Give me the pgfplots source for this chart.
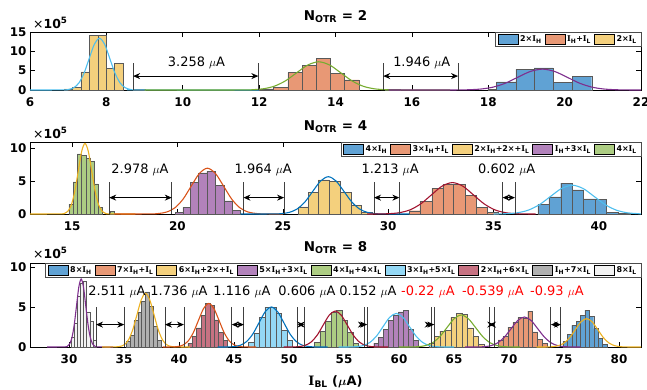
\documentclass[border=0pt]{standalone}
\usepackage{fontspec}
\setmainfont{DejaVu Sans}
\newfontfamily\sI{DejaVu Serif}
\usepackage{pgfplots}
\pgfplotsset{compat=1.18}
\usetikzlibrary{arrows.meta}
\definecolor{hblue}{RGB}{96,162,212}
\definecolor{horange}{RGB}{232,152,117}
\definecolor{hyellow}{RGB}{244,208,125}
\definecolor{hpurple}{RGB}{178,130,187}
\definecolor{hgreen}{RGB}{173,205,131}
\definecolor{hlblue}{RGB}{148,216,245}
\definecolor{hcrimson}{RGB}{199,114,130}
\definecolor{hgray}{RGB}{176,176,176}
\definecolor{hwhite}{RGB}{242,242,242}
\definecolor{mblue}{RGB}{0,114,189}
\definecolor{morange}{RGB}{217,83,25}
\definecolor{myellow}{RGB}{237,177,32}
\definecolor{mpurple}{RGB}{126,47,142}
\definecolor{mgreen}{RGB}{119,172,48}
\definecolor{mlblue}{RGB}{77,190,238}
\definecolor{mcrimson}{RGB}{162,20,47}
\newcommand{\Ih}{{\sI I}\textsubscript{H}}
\newcommand{\Il}{{\sI I}\textsubscript{L}}
\tikzset{
  gapline/.style={line width=0.9pt, black!75},
  gaparrow/.style={{Stealth[length=7bp,width=6bp]}-{Stealth[length=7bp,width=6bp]}, line width=0.9pt, black},
  gaptext/.style={font=\fontsize{13}{13}\selectfont},
}
\pgfplotsset{
  myax/.style={scale only axis, width=611bp, enlargelimits=false, scaled ticks=false,
    axis line style={line width=0.6pt}, every tick/.style={black, line width=0.6pt},
    major tick length=5bp, tick align=inside,
    tick label style={font=\fontsize{12}{12}\selectfont\bfseries},
    xticklabel style={yshift=-4bp},
    /pgf/number format/assume math mode=true,
    legend columns=-1, legend cell align=left,
    legend style={at={(1,1)}, anchor=north east, draw=black!70, line width=0.5pt, fill=white,
      font=\fontsize{8}{9}\selectfont\bfseries, inner xsep=2bp, inner ysep=1.5bp,
      /tikz/every even column/.append style={column sep=1bp}}},
  hbar/.style={ybar interval, fill=#1, draw=black!65, line width=0.4pt,
    legend image code/.code={\draw[fill=#1, draw=black, line width=0.5pt] (0bp,-5bp) rectangle (20bp,5bp);}},
  fit/.style={smooth, color=#1, line width=1.1pt, forget plot},
}
\begin{document}
\begin{tikzpicture}
% ---------------- Panel 1 : N_OTR = 2 ----------------
\begin{axis}[myax, name=ax1, at={(0bp,0bp)}, anchor=north west, height=58bp,
  xmin=6, xmax=22, ymin=0, ymax=15, xtick={6,8,...,22}, ytick={0,5,10,15}]
\addplot[hbar=hblue] coordinates {(17.99,0.2)(18.22,2.1)(18.72,5.35)(19.20,5.75)(19.70,1.95)(20.20,3.45)(20.71,0)};
\addlegendentry{2×\Ih}
\addplot[hbar=horange] coordinates {(12.0,0.3)(12.37,0.65)(12.75,4.5)(13.13,6.3)(13.49,8.2)(13.87,4.3)(14.23,2.6)(14.61,0)};
\addlegendentry{\Ih+\Il}
\addplot[hbar=hyellow] coordinates {(6.895,0.3)(7.115,0.7)(7.335,4.7)(7.555,14.2)(7.775,14.2)(7.995,5.6)(8.215,6.9)(8.435,0)};
\addlegendentry{2×\Il}
\addplot[hbar=horange, forget plot] coordinates {(15.30,0.2)(15.69,0)};
\addplot[hbar=hyellow, forget plot] coordinates {(8.70,0.3)(9.01,0)};
\addplot[fit=mlblue] coordinates {(6,0)(6.875,0.03)(7.01,0.15)(7.145,0.59)(7.28,1.81)(7.415,4.35)(7.55,8.13)(7.685,11.83)(7.82,13.4)(7.955,11.83)(8.09,8.13)(8.225,4.35)(8.36,1.81)(8.495,0.59)(8.63,0.15)(8.765,0.03)(12,0)};
\addplot[fit=mgreen] coordinates {(9,0)(11.53,0.016)(11.82,0.08)(12.11,0.32)(12.40,0.99)(12.69,2.37)(12.98,4.43)(13.27,6.44)(13.56,7.3)(13.85,6.44)(14.14,4.43)(14.43,2.37)(14.72,0.99)(15.01,0.32)(15.30,0.08)(15.59,0.016)(17,0)};
\addplot[fit=mpurple] coordinates {(15.4,0)(17.145,0.012)(17.47,0.06)(17.795,0.24)(18.12,0.73)(18.445,1.75)(18.77,3.28)(19.095,4.77)(19.42,5.4)(19.745,4.77)(20.07,3.28)(20.395,1.75)(20.72,0.73)(21.045,0.24)(21.37,0.06)(21.695,0.012)(22,0)};
\draw[gapline] (axis cs:8.70,0) -- (axis cs:8.70,6.9);
\draw[gapline] (axis cs:11.98,0) -- (axis cs:11.98,6.9);
\draw[gaparrow] (axis cs:8.70,3.6) -- (axis cs:11.98,3.6);
\node[gaptext] at (axis cs:10.36,7.0) {3.258 $\mu$A};
\draw[gapline] (axis cs:15.25,0) -- (axis cs:15.25,6.9);
\draw[gapline] (axis cs:17.21,0) -- (axis cs:17.21,6.9);
\draw[gaparrow] (axis cs:15.25,3.6) -- (axis cs:17.21,3.6);
\node[gaptext] at (axis cs:16.26,7.0) {1.946 $\mu$A};
\end{axis}
\node[anchor=base, font=\fontsize{13.5}{14}\selectfont\bfseries] at ([yshift=12bp]ax1.north) {N\textsubscript{OTR} = 2};
\node[anchor=base west, font=\fontsize{12.5}{13}\selectfont, inner sep=0pt] at ([xshift=3bp,yshift=4bp]ax1.north west) {×\textbf{10}\textsuperscript{\textbf{5}}};

% ---------------- Panel 2 : N_OTR = 4 ----------------
\begin{axis}[myax, name=ax2, at={(0bp,-110bp)}, anchor=north west, height=72bp,
  xmin=13, xmax=42, ymin=0, ymax=11, xtick={15,20,...,40}, ytick={0,5,10}]
\addplot[hbar=hblue] coordinates {(37.10,1.5)(37.63,2.6)(38.19,4.7)(38.74,3.7)(39.26,2.3)(39.82,2.2)(40.37,0.2)(40.92,0.1)(41.47,0)};
\addlegendentry{4×\Ih}
\addplot[hbar=horange] coordinates {(31.0,0.5)(31.51,1.9)(32.07,3.9)(32.59,4.5)(33.09,4.5)(33.65,2.9)(34.17,1.0)(34.68,0.3)(35.2,0)};
\addlegendentry{3×\Ih+\Il}
\addplot[hbar=hyellow] coordinates {(25.73,1.1)(26.21,3.3)(26.68,5.2)(27.2,5.0)(27.73,3.3)(28.26,1.3)(28.74,0.2)(29.22,0)};
\addlegendentry{2×\Ih+2×+\Il}
\addplot[hbar=hpurple] coordinates {(19.9,0.2)(20.25,1.0)(20.6,4.8)(21.0,6.3)(21.4,6.5)(21.8,4.4)(22.2,2.0)(22.6,0.6)(23.0,0)};
\addlegendentry{\Ih+3×\Il}
\addplot[hbar=hgreen] coordinates {(14.85,1.5)(15.05,4.9)(15.25,9.2)(15.45,9.0)(15.65,8.5)(15.85,8.0)(16.05,4.6)(16.25,1.0)(16.45,0)};
\addlegendentry{4×\Il}
\addplot[hbar=hgreen, forget plot] coordinates {(16.8,0.5)(17.0,0)};
\addplot[fit=myellow] coordinates {(13,0)(14.49,0.024)(14.65,0.12)(14.81,0.47)(14.97,1.46)(15.13,3.51)(15.29,6.55)(15.45,9.53)(15.61,10.8)(15.77,9.53)(15.93,6.55)(16.09,3.51)(16.25,1.46)(16.41,0.47)(16.57,0.12)(16.73,0.024)(18,0)};
\addplot[fit=morange] coordinates {(17,0)(18.725,0.015)(19.11,0.08)(19.495,0.31)(19.88,0.95)(20.265,2.27)(20.65,4.25)(21.035,6.18)(21.42,7.0)(21.805,6.18)(22.19,4.25)(22.575,2.27)(22.96,0.95)(23.345,0.31)(23.73,0.08)(24.115,0.015)(25,0)};
\addplot[fit=mblue] coordinates {(23,0)(24.57,0.013)(24.94,0.06)(25.31,0.25)(25.68,0.77)(26.05,1.85)(26.42,3.46)(26.79,5.03)(27.16,5.7)(27.53,5.03)(27.90,3.46)(28.27,1.85)(28.64,0.77)(29.01,0.25)(29.38,0.06)(29.75,0.013)(31,0)};
\addplot[fit=mcrimson] coordinates {(29,0)(29.55,0.011)(30.05,0.05)(30.55,0.21)(31.05,0.65)(31.55,1.56)(32.05,2.91)(32.55,4.24)(33.05,4.8)(33.55,4.24)(34.05,2.91)(34.55,1.56)(35.05,0.65)(35.55,0.21)(36.05,0.05)(36.55,0.011)(37,0)};
\addplot[fit=mlblue] coordinates {(35,0)(35.10,0.01)(35.62,0.05)(36.14,0.19)(36.66,0.60)(37.18,1.43)(37.70,2.67)(38.22,3.88)(38.74,4.4)(39.26,3.88)(39.78,2.67)(40.30,1.43)(40.82,0.60)(41.34,0.19)(41.86,0.05)(42,0)};
\draw[gapline] (axis cs:16.76,0) -- (axis cs:16.76,4.9);
\draw[gapline] (axis cs:19.73,0) -- (axis cs:19.73,4.9);
\draw[gaparrow] (axis cs:16.76,2.5) -- (axis cs:19.73,2.5);
\node[gaptext] at (axis cs:18.22,6.7) {2.978 $\mu$A};
\draw[gapline] (axis cs:23.13,0) -- (axis cs:23.13,4.9);
\draw[gapline] (axis cs:25.06,0) -- (axis cs:25.06,4.9);
\draw[gaparrow] (axis cs:23.13,2.5) -- (axis cs:25.06,2.5);
\node[gaptext] at (axis cs:24.07,6.7) {1.964 $\mu$A};
\draw[gapline] (axis cs:29.33,0) -- (axis cs:29.33,4.9);
\draw[gapline] (axis cs:30.53,0) -- (axis cs:30.53,4.9);
\draw[gaparrow] (axis cs:29.33,2.5) -- (axis cs:30.53,2.5);
\node[gaptext] at (axis cs:30.09,6.7) {1.213 $\mu$A};
\draw[gapline] (axis cs:35.43,0) -- (axis cs:35.43,4.9);
\draw[gapline] (axis cs:36.02,0) -- (axis cs:36.02,4.9);
\draw[gaparrow] (axis cs:35.43,2.5) -- (axis cs:36.02,2.5);
\node[gaptext] at (axis cs:35.63,6.7) {0.602 $\mu$A};
\end{axis}
\node[anchor=base, font=\fontsize{13.5}{14}\selectfont\bfseries] at ([yshift=12bp]ax2.north) {N\textsubscript{OTR} = 4};
\node[anchor=base west, font=\fontsize{12.5}{13}\selectfont, inner sep=0pt] at ([xshift=3bp,yshift=4bp]ax2.north west) {×\textbf{10}\textsuperscript{\textbf{5}}};

% ---------------- Panel 3 : N_OTR = 8 ----------------
\begin{axis}[myax, name=ax3, at={(0bp,-231bp)}, anchor=north west, height=84bp,
  xmin=26.45, xmax=82, ymin=0, ymax=10.5, xtick={30,35,...,80}, ytick={0,5,10}]
\addplot[hbar=hblue] coordinates {(74.9,0.7)(75.3,1.6)(75.7,2.7)(76.1,3.2)(76.5,4.0)(76.9,4.6)(77.3,3.8)(77.7,2.3)(78.1,1.1)(78.5,0.3)(78.9,0)};
\addlegendentry{8×\Ih}
\addplot[hbar=horange] coordinates {(69.0,0.9)(69.45,1.3)(69.9,2.5)(70.35,3.1)(70.8,3.7)(71.25,3.6)(71.7,4.5)(72.15,1.9)(72.6,1.0)(73.05,0.5)(73.5,0)};
\addlegendentry{7×\Ih+\Il}
\addplot[hbar=hyellow] coordinates {(62.7,0.5)(63.2,1.3)(63.7,2.0)(64.2,2.1)(64.7,3.7)(65.2,4.2)(65.7,4.1)(66.2,2.4)(66.7,1.3)(67.2,0.3)(67.7,0)};
\addlegendentry{6×\Ih+2×+\Il}
\addplot[hbar=hpurple] coordinates {(57.7,0.5)(58.15,1.2)(58.6,2.2)(59.05,3.3)(59.5,4.0)(59.95,4.4)(60.4,4.6)(60.85,2.2)(61.3,0.8)(61.75,0)};
\addlegendentry{5×\Ih+3×\Il}
\addplot[hbar=hgreen] coordinates {(52.3,0.6)(52.8,2.0)(53.3,3.2)(53.8,4.3)(54.3,4.6)(54.8,3.3)(55.3,1.8)(55.8,0.5)(56.3,0)};
\addlegendentry{4×\Ih+4×\Il}
\addplot[hbar=hlblue] coordinates {(46.3,0.6)(46.8,1.7)(47.3,3.7)(47.8,5.0)(48.3,5.0)(48.8,4.2)(49.3,2.1)(49.8,0.8)(50.3,0)};
\addlegendentry{3×\Ih+5×\Il}
\addplot[hbar=hcrimson] coordinates {(40.8,0.5)(41.2,1.3)(41.6,2.4)(42.0,4.0)(42.4,5.5)(42.8,5.2)(43.2,3.4)(43.6,1.8)(44.0,0.8)(44.4,0)};
\addlegendentry{2×\Ih+6×\Il}
\addplot[hbar=hgray] coordinates {(35.2,0.7)(35.55,1.5)(35.9,3.3)(36.25,4.3)(36.6,5.7)(36.95,6.9)(37.3,5.1)(37.65,2.6)(38.0,0.8)(38.35,0)};
\addlegendentry{\Ih+7×\Il}
\addplot[hbar=hwhite] coordinates {(30.2,1.2)(30.48,3.0)(30.76,6.3)(31.04,8.0)(31.32,8.2)(31.6,4.4)(31.88,3.2)(32.16,0.9)(32.44,0)};
\addlegendentry{8×\Il}
\addplot[fit=mpurple] coordinates {(28,0)(29.63,0.019)(29.84,0.09)(30.05,0.37)(30.26,1.15)(30.47,2.76)(30.68,5.16)(30.89,7.50)(31.1,8.5)(31.31,7.50)(31.52,5.16)(31.73,2.76)(31.94,1.15)(32.15,0.37)(32.36,0.09)(32.57,0.019)(34,0)};
\addplot[fit=myellow] coordinates {(33,0)(34.255,0.015)(34.64,0.07)(35.025,0.29)(35.41,0.91)(35.795,2.18)(36.18,4.06)(36.565,5.91)(36.95,6.7)(37.335,5.91)(37.72,4.06)(38.105,2.18)(38.49,0.91)(38.875,0.29)(39.26,0.07)(39.645,0.015)(41,0)};
\addplot[fit=morange] coordinates {(38.5,0)(39.41,0.012)(39.88,0.06)(40.35,0.24)(40.82,0.74)(41.29,1.77)(41.76,3.31)(42.23,4.81)(42.7,5.45)(43.17,4.81)(43.64,3.31)(44.11,1.77)(44.58,0.74)(45.05,0.24)(45.52,0.06)(45.99,0.012)(47,0)};
\addplot[fit=mblue] coordinates {(43.5,0)(44.445,0.011)(45.01,0.06)(45.575,0.22)(46.14,0.68)(46.705,1.62)(47.27,3.03)(47.835,4.41)(48.4,5.0)(48.965,4.41)(49.53,3.03)(50.095,1.62)(50.66,0.68)(51.225,0.22)(51.79,0.06)(52.355,0.011)(53.5,0)};
\addplot[fit=mcrimson] coordinates {(49.5,0)(50.35,0.01)(50.9,0.05)(51.45,0.20)(52.0,0.61)(52.55,1.46)(53.1,2.73)(53.65,3.97)(54.2,4.5)(54.75,3.97)(55.3,2.73)(55.85,1.46)(56.4,0.61)(56.95,0.20)(57.5,0.05)(58.05,0.01)(59,0)};
\addplot[fit=mlblue] coordinates {(54.5,0)(55.55,0.009)(56.15,0.05)(56.75,0.18)(57.35,0.57)(57.95,1.36)(58.55,2.55)(59.15,3.71)(59.75,4.2)(60.35,3.71)(60.95,2.55)(61.55,1.36)(62.15,0.57)(62.75,0.18)(63.35,0.05)(63.95,0.009)(65,0)};
\addplot[fit=mgreen] coordinates {(60,0)(61.11,0.009)(61.76,0.04)(62.41,0.18)(63.06,0.54)(63.71,1.30)(64.36,2.43)(65.01,3.53)(65.66,4.0)(66.31,3.53)(66.96,2.43)(67.61,1.30)(68.26,0.54)(68.91,0.18)(69.56,0.04)(70.21,0.009)(71,0)};
\addplot[fit=mpurple] coordinates {(66,0)(67.13,0.008)(67.74,0.04)(68.35,0.16)(68.96,0.51)(69.57,1.22)(70.18,2.27)(70.79,3.31)(71.4,3.75)(72.01,3.31)(72.62,2.27)(73.23,1.22)(73.84,0.51)(74.45,0.16)(75.06,0.04)(75.67,0.008)(76.5,0)};
\addplot[fit=myellow] coordinates {(72.5,0)(73.445,0.008)(73.96,0.04)(74.475,0.16)(74.99,0.48)(75.505,1.15)(76.02,2.15)(76.535,3.13)(77.05,3.55)(77.565,3.13)(78.08,2.15)(78.595,1.15)(79.11,0.48)(79.625,0.16)(80.14,0.04)(80.655,0.008)(82,0)};
\draw[gapline] (axis cs:32.45,0) -- (axis cs:32.45,5.0);
\draw[gapline] (axis cs:35.02,0) -- (axis cs:35.02,5.0);
\draw[gaparrow] (axis cs:32.45,2.8) -- (axis cs:35.02,2.8);
\draw[gapline] (axis cs:38.72,0) -- (axis cs:38.72,5.0);
\draw[gapline] (axis cs:40.45,0) -- (axis cs:40.45,5.0);
\draw[gaparrow] (axis cs:38.72,2.8) -- (axis cs:40.45,2.8);
\draw[gapline] (axis cs:44.79,0) -- (axis cs:44.79,5.0);
\draw[gapline] (axis cs:45.90,0) -- (axis cs:45.90,5.0);
\draw[gaparrow] (axis cs:44.79,2.8) -- (axis cs:45.90,2.8);
\draw[gapline] (axis cs:50.79,0) -- (axis cs:50.79,5.0);
\draw[gapline] (axis cs:51.39,0) -- (axis cs:51.39,5.0);
\draw[gaparrow] (axis cs:50.79,2.8) -- (axis cs:51.39,2.8);
\draw[gapline] (axis cs:56.90,0) -- (axis cs:56.90,5.0);
\draw[gapline] (axis cs:57.11,0) -- (axis cs:57.11,5.0);
\draw[gaparrow] (axis cs:56.90,2.8) -- (axis cs:57.11,2.8);
\draw[gapline] (axis cs:62.97,0) -- (axis cs:62.97,5.0);
\draw[gapline] (axis cs:63.21,0) -- (axis cs:63.21,5.0);
\draw[gaparrow] (axis cs:62.97,2.8) -- (axis cs:63.21,2.8);
\draw[gapline] (axis cs:68.18,0) -- (axis cs:68.18,5.0);
\draw[gapline] (axis cs:68.66,0) -- (axis cs:68.66,5.0);
\draw[gaparrow] (axis cs:68.18,2.8) -- (axis cs:68.66,2.8);
\draw[gapline] (axis cs:73.81,0) -- (axis cs:73.81,5.0);
\draw[gapline] (axis cs:74.72,0) -- (axis cs:74.72,5.0);
\draw[gaparrow] (axis cs:73.81,2.8) -- (axis cs:74.72,2.8);
\node[gaptext] at (axis cs:34.36,6.9) {2.511 $\mu$A};
\node[gaptext] at (axis cs:40.00,6.9) {1.736 $\mu$A};
\node[gaptext] at (axis cs:45.72,6.9) {1.116 $\mu$A};
\node[gaptext] at (axis cs:51.63,6.9) {0.606 $\mu$A};
\node[gaptext] at (axis cs:57.18,6.9) {0.152 $\mu$A};
\node[gaptext, text=red] at (axis cs:62.63,6.9) {-0.22 $\mu$A};
\node[gaptext, text=red] at (axis cs:68.54,6.9) {-0.539 $\mu$A};
\node[gaptext, text=red] at (axis cs:74.36,6.9) {-0.93 $\mu$A};
\end{axis}
\node[anchor=base, font=\fontsize{13.5}{14}\selectfont\bfseries] at ([yshift=12bp]ax3.north) {N\textsubscript{OTR} = 8};
\node[anchor=base west, font=\fontsize{12.5}{13}\selectfont, inner sep=0pt] at ([xshift=3bp,yshift=5bp]ax3.north west) {×\textbf{10}\textsuperscript{\textbf{5}}};
\node[anchor=base, font=\fontsize{13}{14}\selectfont\bfseries] at ([yshift=-38bp]ax3.south) {{\sI I}\textsubscript{BL} ({\boldmath$\mu$}A)};
\pgfresetboundingbox
\path[use as bounding box] (-30bp,32bp) rectangle (617bp,-358bp);
\end{tikzpicture}
\end{document}
